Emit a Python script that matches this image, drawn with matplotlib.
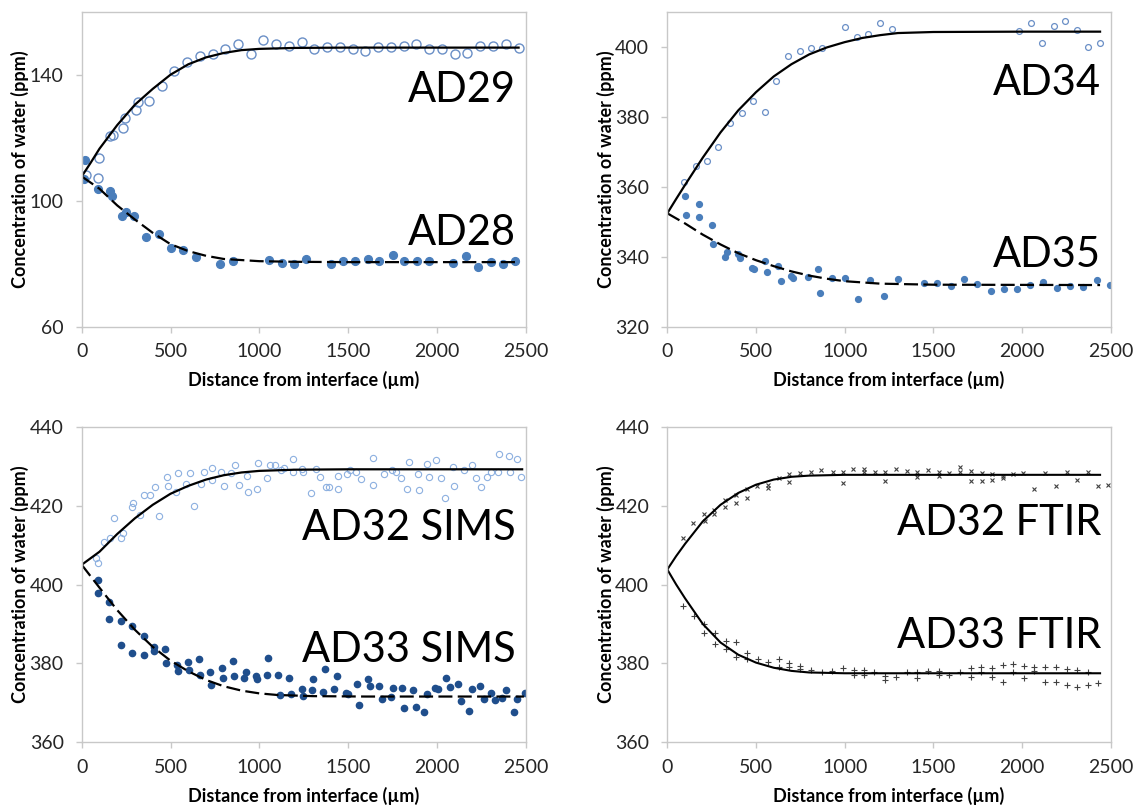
import numpy as np
import matplotlib.pyplot as plt

plt.rcParams['font.family'] = ['Lato', 'DejaVu Sans']

# ---- AD29 / AD28 ----
ad29_x = [24, 90, 100, 160, 178, 235, 246, 306, 315, 379, 450, 520, 593, 666, 738, 809, 880,
          953, 1023, 1094, 1169, 1239, 1310, 1381, 1455, 1526, 1597, 1669, 1740, 1812, 1885,
          1958, 2029, 2101, 2172, 2243, 2314, 2389, 2461]
ad29_y = [108.0, 107.2, 113.7, 120.6, 121.0, 123.0, 126.1, 128.9, 131.2, 131.8, 136.5, 141.1,
          143.9, 145.9, 146.6, 148.0, 149.6, 146.6, 151.1, 149.6, 149.0, 150.4, 148.0, 148.7,
          148.7, 148.2, 147.6, 148.7, 148.7, 149.0, 149.6, 148.2, 148.0, 146.7, 146.9, 149.0,
          149.0, 149.6, 148.5]
ad28_x = [19, 15, 94, 160, 173, 225, 250, 297, 362, 435, 503, 571, 642, 779, 850, 1057, 1126,
          1196, 1263, 1402, 1469, 1541, 1610, 1676, 1751, 1815, 1886, 1958, 2093, 2164, 2234,
          2303, 2371, 2442]
ad28_y = [112.8, 107.0, 103.7, 103.1, 101.5, 95.3, 96.4, 95.2, 88.4, 89.4, 85.1, 84.4, 82.2,
          80.0, 80.9, 81.1, 80.2, 79.8, 81.4, 80.0, 80.9, 80.9, 81.4, 80.9, 82.8, 80.9, 80.7,
          80.7, 80.3, 82.3, 79.1, 80.5, 79.8, 80.9]
fit29_x = [0, 50, 100, 200, 300, 400, 500, 600, 700, 800, 900, 1000, 1200, 1500, 2000, 2460]
fit29_y = [107.7, 112.0, 116.5, 124.0, 130.5, 135.5, 140.0, 143.3, 145.5, 146.9, 147.8, 148.2,
           148.5, 148.6, 148.6, 148.6]
fit28_x = [0, 100, 200, 300, 400, 500, 600, 700, 800, 1000, 1200, 1500, 2460]
fit28_y = [107.7, 103.8, 98.5, 94.0, 89.8, 86.2, 84.0, 82.5, 81.5, 80.8, 80.6, 80.5, 80.5]

# ---- AD34 / AD35 ----
ad34_x = [92, 160, 224, 288, 355, 419, 485, 549, 615, 680, 746, 810, 874, 1004, 1068, 1133,
          1199, 1265, 1985, 2049, 2113, 2178, 2244, 2310, 2374, 2438]
ad34_y = [361.3, 365.9, 367.4, 371.4, 378.3, 381.0, 384.5, 381.4, 390.2, 397.3, 398.8, 399.5,
          399.5, 405.5, 402.7, 403.6, 406.9, 405.0, 404.6, 406.7, 401.1, 405.9, 407.3, 404.8,
          400.0, 401.0]
ad35_x = [102, 105, 177, 180, 252, 256, 325, 335, 398, 410, 476, 489, 551, 564, 626, 639, 699,
          711, 791, 848, 861, 927, 1000, 1073, 1143, 1223, 1299, 1447, 1522, 1597, 1673, 1748,
          1823, 1899, 1972, 2047, 2121, 2196, 2271, 2346, 2421, 2496]
ad35_y = [357.3, 351.9, 355.2, 351.4, 349.0, 343.5, 340.0, 341.3, 340.8, 339.5, 336.9, 336.4,
          338.8, 335.7, 337.4, 333.1, 334.6, 333.8, 334.1, 336.5, 329.7, 333.8, 333.8, 327.9,
          333.3, 328.9, 333.5, 332.6, 332.6, 331.7, 333.5, 332.2, 330.2, 330.8, 330.8, 331.9,
          332.7, 331.2, 331.7, 331.4, 333.3, 331.9]
fit34_x = [0, 50, 100, 200, 300, 400, 500, 600, 700, 800, 900, 1000, 1100, 1200, 1300, 1500,
           2000, 2440]
fit34_y = [352.4, 356.5, 360.5, 368.3, 375.5, 381.8, 387.0, 391.5, 395.0, 397.8, 399.8, 401.3,
           402.5, 403.3, 403.9, 404.2, 404.3, 404.3]
fit35_x = [0, 100, 200, 300, 400, 500, 600, 700, 800, 900, 1000, 1200, 1500, 2440]
fit35_y = [352.4, 349.5, 346.3, 343.5, 341.0, 339.0, 337.3, 335.8, 334.6, 333.7, 333.0, 332.3,
           332.0, 331.9]

# ---- AD32 / AD33 SIMS ----
ad32s_x = [79, 94, 126, 160, 180, 221, 233, 283, 289, 328, 351, 385, 415, 434, 482, 484, 531,
           544, 586, 610, 634, 674, 687, 736, 736, 786, 803, 839, 865, 888, 933, 938, 987, 995,
           1042, 1060, 1090, 1122, 1139, 1188, 1192, 1248, 1242, 1318, 1342, 1376, 1391, 1291,
           1442, 1445, 1492, 1511, 1545, 1573, 1642, 1638, 1702, 1746, 1768, 1796, 1832, 1845,
           1894, 1898, 1946, 1958, 1997, 2025, 2048, 2089, 2098, 2153, 2200, 2220, 2249, 2282,
           2303, 2348, 2346, 2404, 2412, 2451, 2476]
ad32s_y = [406.6, 405.4, 410.7, 411.7, 416.8, 411.7, 413.0, 419.7, 420.6, 417.5, 422.7, 422.8,
           424.8, 417.3, 427.3, 424.9, 423.5, 428.2, 425.4, 428.2, 420.0, 425.4, 428.5, 429.6,
           426.6, 428.6, 424.9, 428.2, 430.4, 425.2, 427.5, 423.5, 424.2, 430.7, 427.1, 430.4,
           430.3, 429.0, 429.6, 428.6, 431.8, 428.6, 429.4, 429.4, 427.3, 424.8, 424.8, 423.1,
           424.1, 427.5, 427.9, 429.0, 428.4, 426.7, 432.1, 425.2, 427.9, 429.0, 428.4, 426.9,
           424.1, 431.1, 427.9, 423.9, 430.5, 427.3, 431.5, 426.9, 421.8, 429.9, 425.0, 429.0,
           430.4, 426.9, 424.8, 427.3, 428.4, 433.2, 428.4, 432.6, 428.4, 431.7, 427.3]
ad33s_x = [90, 90, 156, 156, 220, 221, 282, 285, 349, 349, 409, 409, 471, 477, 539, 541, 601,
           604, 663, 668, 724, 730, 788, 794, 850, 858, 916, 923, 980, 985, 1042, 1051, 1104,
           1117, 1166, 1179, 1239, 1244, 1295, 1304, 1357, 1370, 1423, 1436, 1487, 1502, 1548,
           1561, 1610, 1623, 1674, 1689, 1740, 1755, 1802, 1817, 1866, 1881, 1928, 1945, 1988,
           2007, 2053, 2072, 2117, 2136, 2181, 2198, 2243, 2264, 2305, 2328, 2369, 2391, 2435,
           2453, 2498]
ad33s_y = [401.1, 397.9, 395.5, 391.2, 390.7, 384.7, 389.5, 382.6, 386.9, 382.1, 384.1, 383.2,
           383.7, 380.0, 379.6, 378.1, 380.3, 378.3, 381.0, 377.1, 377.9, 374.5, 378.8, 376.4,
           380.6, 376.8, 376.4, 377.7, 376.8, 376.0, 377.1, 381.3, 377.1, 371.9, 376.2, 372.2,
           373.4, 371.8, 373.3, 376.0, 372.8, 378.5, 373.4, 376.8, 372.6, 372.2, 374.7, 369.5,
           376.0, 374.3, 374.3, 371.0, 371.4, 373.7, 373.7, 368.8, 373.3, 369.0, 367.6, 372.2,
           373.7, 373.4, 376.4, 374.1, 374.8, 370.5, 368.0, 373.4, 374.3, 371.1, 372.6, 370.7,
           371.3, 373.3, 367.8, 371.1, 372.4]
fit32s_x = [0, 100, 200, 300, 400, 500, 600, 700, 800, 900, 1000, 1200, 1500, 2480]
fit32s_y = [405.0, 408.3, 412.8, 416.8, 420.2, 423.0, 425.0, 426.6, 427.7, 428.4, 428.8, 429.1,
            429.2, 429.2]
fit33s_x = [0, 100, 200, 300, 400, 500, 600, 700, 800, 900, 1000, 1100, 1300, 1600, 2490]
fit33s_y = [405.0, 399.2, 393.5, 388.5, 384.2, 380.7, 378.0, 375.8, 374.2, 373.1, 372.4, 372.0,
            371.7, 371.6, 371.6]

# ---- AD32 / AD33 FTIR ----
ad32f_x = [90, 147, 207, 214, 265, 265, 325, 325, 385, 387, 447, 447, 504, 566, 566, 630, 688,
           688, 748, 808, 868, 932, 989, 989, 1049, 1109, 1109, 1171, 1229, 1229, 1288, 1350,
           1410, 1410, 1472, 1530, 1530, 1590, 1651, 1651, 1711, 1711, 1773, 1773, 1833, 1833,
           1891, 1891, 1951, 2008, 2068, 2131, 2191, 2251, 2311, 2370, 2430, 2487]
ad32f_y = [411.9, 415.5, 417.9, 416.2, 419.0, 417.9, 421.4, 419.7, 420.7, 422.7, 424.3, 421.9,
           425.0, 425.3, 424.5, 426.9, 428.0, 426.0, 428.3, 428.6, 429.0, 428.6, 428.6, 425.8,
           429.2, 429.2, 428.4, 428.6, 428.6, 426.2, 429.4, 428.8, 428.6, 427.3, 429.0, 428.6,
           427.5, 428.3, 429.7, 428.6, 428.8, 426.2, 428.2, 426.2, 427.9, 426.5, 427.5, 427.1,
           427.9, 428.2, 424.2, 428.3, 424.9, 428.4, 426.5, 428.4, 424.9, 425.2]
ad33f_x = [90, 148, 209, 209, 269, 269, 329, 329, 387, 387, 447, 447, 509, 570, 630, 630, 688,
           688, 748, 748, 808, 870, 930, 991, 1051, 1051, 1111, 1111, 1165, 1229, 1229, 1289,
           1350, 1410, 1410, 1472, 1530, 1530, 1590, 1651, 1711, 1711, 1771, 1771, 1833, 1833,
           1891, 1891, 1951, 1951, 2010, 2010, 2070, 2070, 2131, 2131, 2191, 2191, 2251, 2251,
           2311, 2311, 2370, 2370, 2430]
ad33f_y = [394.6, 392.1, 389.9, 387.6, 387.8, 384.8, 385.8, 383.6, 385.3, 381.7, 382.7, 381.0,
           381.0, 380.3, 381.0, 379.2, 380.0, 379.2, 379.3, 378.5, 378.3, 377.9, 378.1, 378.8,
           378.3, 377.1, 378.3, 377.1, 377.7, 376.8, 375.8, 376.6, 377.7, 377.9, 376.2, 378.2,
           378.2, 377.1, 377.1, 377.7, 378.8, 376.5, 379.2, 377.7, 378.8, 376.6, 379.6, 375.4,
           379.8, 377.7, 379.3, 376.2, 379.2, 378.2, 379.0, 375.4, 379.0, 375.4, 378.5, 374.5,
           378.3, 374.1, 377.9, 374.5, 375.0]
fit32f_x = [0, 50, 100, 200, 300, 400, 500, 600, 700, 800, 1000, 2440]
fit32f_y = [403.8, 407.2, 410.3, 416.0, 420.2, 423.2, 425.3, 426.6, 427.3, 427.6, 427.8, 427.8]
fit33f_x = [0, 50, 100, 200, 300, 400, 500, 600, 700, 800, 1000, 2440]
fit33f_y = [403.8, 400.0, 396.5, 390.0, 385.3, 382.2, 380.2, 378.9, 378.1, 377.7, 377.5, 377.5]

grey = '#C8C8C8'
dash = (0, (6.3, 2.4))

fig = plt.figure(figsize=(11.38, 8.05), dpi=100)
W, H = 1138, 805


def make_axes(left, top, right, bottom, ylim, yticks):
    ax = fig.add_axes([left / W, 1 - bottom / H, (right - left) / W, (bottom - top) / H])
    ax.set_xlim(0, 2500)
    ax.set_ylim(*ylim)
    ax.set_xticks([0, 500, 1000, 1500, 2000, 2500])
    ax.set_yticks(yticks)
    for s in ax.spines.values():
        s.set_color(grey)
        s.set_linewidth(1.0)
    ax.tick_params(direction='out', length=4, width=1, color=grey,
                   labelsize=14, labelcolor='#262626')
    ax.tick_params(axis='x', pad=8)
    ax.tick_params(axis='y', pad=9)
    ax.set_xlabel('Distance from interface (µm)', fontsize=13, fontweight='bold')
    ax.set_ylabel('Concentration of water (ppm)', fontsize=13, fontweight='bold')
    ax.xaxis.set_label_coords(0.5, -0.14)
    ax.yaxis.set_label_coords(-0.118, 0.5)
    return ax


def tag(ax, y, s):
    ax.text(0.978, y, s, transform=ax.get_yaxis_transform(), ha='right', va='baseline',
            fontsize=30, color='black')


ax1 = make_axes(81.7, 11.7, 525.7, 326.7, (60, 160), [60, 100, 140])
ax1.plot(ad29_x, ad29_y, 'o', ms=6.5, mfc='none', mec='#6A8FC6', mew=1.0)
ax1.plot(ad28_x, ad28_y, 'o', ms=5.6, mfc='#4A7EBB', mec='#4A7EBB')
ax1.plot(fit29_x, fit29_y, color='black', lw=1.6)
ax1.plot(fit28_x, fit28_y, color='black', lw=1.6, linestyle=dash)
tag(ax1, 131.4, 'AD29')
tag(ax1, 86.0, 'AD28')

ax2 = make_axes(667.3, 11.7, 1110.7, 326.7, (320, 410), [320, 340, 360, 380, 400])
ax2.plot(ad34_x, ad34_y, 'o', ms=4.2, mfc='none', mec='#6A8FC6', mew=0.9)
ax2.plot(ad35_x, ad35_y, 'o', ms=4.2, mfc='#4A7EBB', mec='#4A7EBB')
ax2.plot(fit34_x, fit34_y, color='black', lw=1.6)
ax2.plot(fit35_x, fit35_y, color='black', lw=1.6, linestyle=dash)
tag(ax2, 386.2, 'AD34')
tag(ax2, 337.1, 'AD35')

ax3 = make_axes(81.7, 426.7, 525.7, 742.3, (360, 440), [360, 380, 400, 420, 440])
ax3.plot(ad32s_x, ad32s_y, 'o', ms=4.5, mfc='none', mec='#8DB0E0', mew=0.8)
ax3.plot(ad33s_x, ad33s_y, 'o', ms=4.5, mfc='#1F4E8C', mec='#1F4E8C')
ax3.plot(fit32s_x, fit32s_y, color='black', lw=1.6)
ax3.plot(fit33s_x, fit33s_y, color='black', lw=1.6, linestyle=dash)
tag(ax3, 411.3, 'AD32 SIMS')
tag(ax3, 380.3, 'AD33 SIMS')

ax4 = make_axes(667.3, 426.7, 1110.7, 742.3, (360, 440), [360, 380, 400, 420, 440])
ax4.plot(ad32f_x, ad32f_y, 'x', ms=3.5, mec='#404040', mew=0.8)
ax4.plot(ad33f_x, ad33f_y, '+', ms=4, mec='#404040', mew=0.8)
ax4.plot(fit32f_x, fit32f_y, color='black', lw=1.5)
ax4.plot(fit33f_x, fit33f_y, color='black', lw=1.5)
tag(ax4, 412.5, 'AD32 FTIR')
tag(ax4, 383.9, 'AD33 FTIR')

fig.savefig('out.png', dpi=100)
